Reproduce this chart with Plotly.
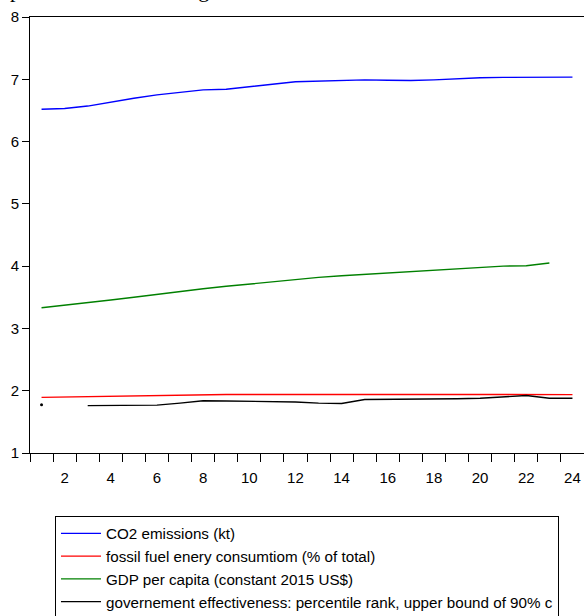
import plotly.graph_objects as go

obs = list(range(1, 25))

co2 = [6.52, 6.53, 6.57, 6.635, 6.695, 6.75, 6.795, 6.83, 6.84, 6.875, 6.92, 6.96,
       6.97, 6.99, 6.99, 6.985, 6.98, 6.99, 7.01, 7.025, 7.03, 7.035, 7.035, 7.035]
fossil = [1.893, 1.90, 1.907, 1.915, 1.922, 1.928, 1.933, 1.937, 1.94, 1.94, 1.942, 1.943,
          1.943, 1.942, 1.94, 1.94, 1.94, 1.94, 1.942, 1.943, 1.945, 1.943, 1.94, 1.938]
gdp = [3.333, 3.37, 3.413, 3.456, 3.50, 3.548, 3.59, 3.638, 3.676, 3.713, 3.756, 3.793,
       3.82, 3.846, 3.869, 3.89, 3.91, 3.93, 3.954, 3.975, 4.00, 4.007, 4.05, None]
gov = [1.775, None, 1.76, 1.765, 1.768, 1.768, 1.80, 1.84, 1.835, 1.828, 1.822, 1.82,
       1.80, 1.795, 1.858, 1.86, 1.858, 1.862, 1.87, 1.88, 1.90, 1.922, 1.878, 1.878]

names = ["CO2 emissions (kt)",
         "fossil fuel enery consumtiom (% of total)",
         "GDP per capita (constant 2015 US$)",
         "governement effectiveness: percentile rank, upper bound of 90% c"]
colors = ["#0000FF", "#FF0000", "#008000", "#000000"]

xtick_vals = list(range(2, 25, 2))
ytick_vals = list(range(1, 9))

FONT = "Liberation Sans, Arial, sans-serif"

fig = go.Figure()
for name, ys, col in zip(names, [co2, fossil, gdp, gov], colors):
    fig.add_trace(go.Scatter(x=obs, y=ys, mode="lines", name=name,
                             line=dict(color=col, width=1.4), connectgaps=False))
# isolated first observation of government effectiveness
fig.add_trace(go.Scatter(x=obs[:1], y=gov[:1], mode="markers", showlegend=False,
                         marker=dict(color="#000000", size=3)))

fig.update_layout(
    width=584, height=616,
    margin=dict(l=30, r=0, t=17, b=163, autoexpand=False),
    plot_bgcolor="white", paper_bgcolor="white",
    font=dict(family=FONT, size=16, color="black"),
    showlegend=True,
    legend=dict(x=0.0451, y=-0.1445, xanchor="left", yanchor="top",
                bordercolor="black", borderwidth=1, bgcolor="white",
                font=dict(family=FONT, size=15.2, color="black"),
                itemwidth=40, tracegroupgap=0),
    xaxis=dict(range=[0.5, 24.5], tickmode="array", tickvals=xtick_vals,
               ticktext=[str(v) for v in xtick_vals], ticks="", showgrid=False,
               zeroline=False, showline=True, linecolor="black", linewidth=1,
               mirror=True, tickfont=dict(size=15), ticklabelstandoff=11,
               minor=dict(tickmode="linear", tick0=0.5, dtick=1, ticks="outside",
                          ticklen=8, tickcolor="black", showgrid=False)),
    yaxis=dict(range=[1, 8], tickmode="array", tickvals=ytick_vals, ticks="outside",
               ticklen=7, tickcolor="black", showgrid=False, zeroline=False,
               showline=True, linecolor="black", linewidth=1, mirror=False,
               tickfont=dict(size=15)),
)

fig.add_annotation(text="plot of variables in log", xref="paper", yref="paper",
                   x=-0.0397, y=1 + 12.5 / 436, xanchor="left", yanchor="bottom",
                   showarrow=False, font=dict(family="Liberation Serif, Times New Roman, serif",
                                              size=22, color="black"))

fig.write_html("out.html", config={"displayModeBar": False},
               post_script="document.body.style.margin='0';")
